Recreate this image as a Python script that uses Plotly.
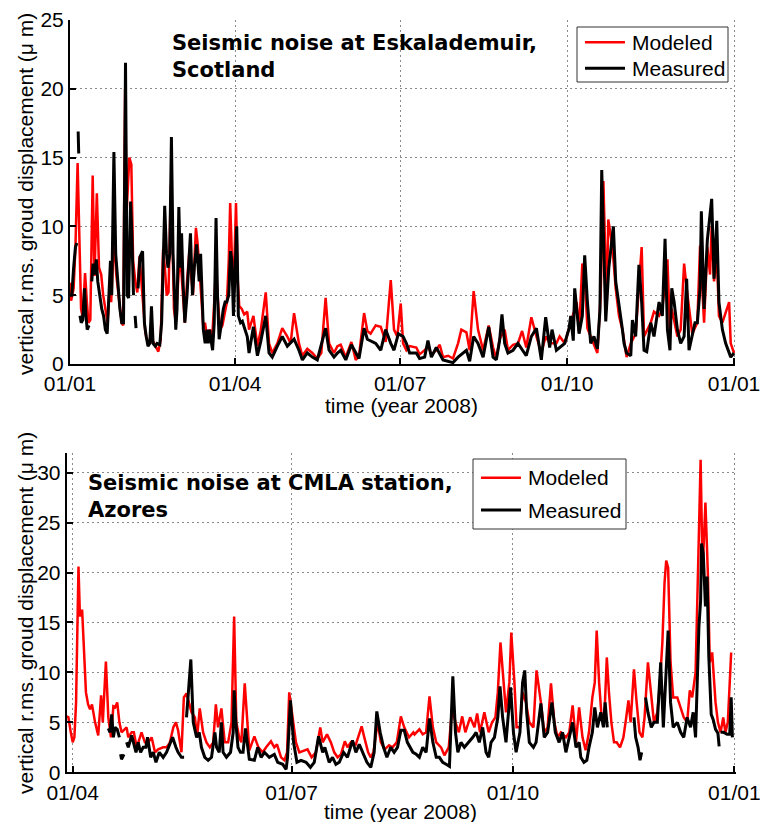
import pandas as pd
import plotly.graph_objects as go

BASE = pd.Timestamp("2008-01-01")

# ---------------- Eskalademuir (day of year 2008, displacement in micrometres) ----------------
esk_mod_day = [
    0, 0.6, 2, 3, 4.2, 5.2, 6.1, 7.0, 8.3, 9.3, 10.2, 11.2, 12.5, 13.5, 14.8, 16.0, 17.2, 18.3, 19.5, 20.7,
    21.8, 22.7, 23.7, 24.4, 25.5, 27.0, 28.5, 29.3, 30.4, 31.2, 32.7, 33.8, 34.8, 36.0, 37.1, 38.3, 39.3, 40.2,
    41.5, 43.0, 44.5, 46.0, 47.5, 48.7, 50.0, 51.3, 52.3, 53.3, 54.3, 55.6, 56.5, 57.3, 58.3, 59.3, 60.5, 61.5,
    62.5, 63.3, 64.5, 65.7, 66.7, 67.8, 69.4, 70.3, 71.3, 72.3, 73.5, 74.4, 75.5, 77.1, 78.2, 79.3, 80.5, 81.6,
    82.7, 84.0, 85.5, 86.5, 87.5, 88.3, 89.2, 90.1, 91.5, 92.5, 93.3, 94.7, 96.0, 97.7, 98.7, 101.1, 103.3,
    105.1, 107.9, 109.7, 111.5, 114.3, 117.0, 119.8, 121.6, 123.5, 126.2, 128.1, 130.8, 133.6, 136.3, 138.5,
    140.9, 142.8, 145.5, 147.4, 149.2, 152.0, 155.1, 157.5, 159.3, 162.1, 163.9, 165.7, 168.5, 171.3, 174.0,
    176.8, 178.6, 180.4, 182.3, 183.6, 185.4, 187.2, 190.9, 192.7, 195.5, 197.3, 199.2, 201.9, 203.8, 205.6,
    208.4, 211.1, 213.9, 215.7, 218.5, 220.3, 222.5, 224.9, 227.7, 230.8, 233.2, 235.0, 236.8, 239.6, 241.4,
    244.2, 246.9, 249.2, 251.5, 254.3, 257.1, 259.8, 262.2, 264.4, 268.1, 269.9, 272.7, 276.0, 279.3, 280.6,
    282.4, 283.7, 285.2, 287.0, 290.7, 292.5, 294.0, 295.8, 296.7, 299.0, 300.8, 302.6, 304.5, 306.8, 309.1,
    311.8, 313.6, 315.1, 316.4, 320.1, 321.9, 324.7, 326.5, 328.0, 329.3, 330.7, 331.7, 334.8, 336.6, 338.5,
    339.9, 343.0, 345.8, 347.3, 349.5, 351.3, 352.8, 353.7, 355.0, 356.5, 357.7, 359.6, 363.3, 364.2, 366.0,
]
esk_mod_val = [
    5.9, 4.6, 5.5, 8.5, 14.6, 9.0, 4.0, 3.4, 6.6, 4.5, 3.0, 3.2, 13.7, 6.4, 12.4, 7.0, 6.5, 5.0, 4.0, 3.0,
    5.5, 4.5, 7.5, 9.0, 6.5, 4.5, 3.0, 2.8, 20.0, 11.0, 15.0, 14.5, 7.5, 6.0, 5.2, 7.8, 6.0, 4.2,
    2.3, 1.5, 1.6, 1.6, 1.2, 0.9, 1.8, 8.3, 7.0, 5.0, 5.2, 13.0, 9.0, 4.0, 3.0, 5.5, 8.0, 6.5,
    4.5, 3.0, 6.0, 8.0, 6.5, 5.0, 9.9, 8.8, 7.0, 5.0, 2.6, 3.0, 2.0, 2.5, 1.6, 4.0, 7.0, 4.5,
    2.5, 2.8, 4.0, 4.5, 7.5, 11.7, 8.0, 5.0, 11.7, 6.0, 4.2, 4.0, 3.6, 3.8, 2.5, 3.5, 1.3,
    2.4, 5.2, 1.5, 0.8, 1.5, 2.6, 2.0, 1.5, 3.7, 1.5, 0.6, 1.1, 0.8, 0.4, 0.8,
    4.8, 1.5, 0.8, 1.3, 1.4, 0.5, 1.6, 0.3, 0.6, 3.7, 2.4, 2.2, 2.8, 2.7, 1.6,
    6.1, 2.5, 2.0, 4.4, 1.5, 1.0, 1.3, 1.2, 0.7, 1.0, 1.3, 0.7, 1.0, 1.4, 0.5,
    0.6, 0.4, 1.5, 2.5, 2.3, 1.0, 5.3, 2.5, 1.0, 2.8, 1.2, 0.4, 1.8, 2.5, 1.0,
    1.4, 1.5, 2.4, 1.2, 3.4, 2.0, 0.8, 2.0, 1.5, 1.5, 2.0, 1.5, 3.0, 4.5, 2.3,
    7.3, 6.5, 2.6, 2.0, 0.8, 5.0, 13.3, 4.0, 10.5, 8.5, 5.5, 3.5, 2.5, 0.5, 1.5,
    2.2, 5.5, 8.5, 2.0, 3.0, 3.8, 3.5, 4.0, 6.0, 7.6, 2.5, 4.0, 2.0, 2.5, 7.3,
    5.5, 2.2, 3.0, 8.6, 3.0, 8.5, 6.5, 10.0, 6.0, 8.0, 3.5, 3.0, 4.5, 1.5, 0.8,
]

esk_meas_day = [
    0, 1.0, 2.0, 3.0, 3.8, 4.2, 4.5, 4.8, 5.1, 5.5, 6.2, 7.0, 8.0, 8.8, 9.5, 10.5, 11.2, 12.0, 12.7, 13.5,
    14.5, 15.3, 16.2, 17.5, 18.5, 19.5, 20.5, 21.5, 22.3, 23.0, 24.2, 25.2, 26.4, 27.5, 28.5, 29.5, 30.6, 31.5,
    32.3, 33.4, 34.1, 35.0, 35.4, 35.9, 36.4, 36.8, 37.5, 38.6, 40.0, 41.0, 42.0, 43.0, 44.0, 44.9, 45.8, 47.0,
    48.0, 49.5, 50.5, 51.3, 52.2, 53.2, 54.0, 55.0, 55.9, 56.8, 57.5, 58.3, 59.0, 60.0, 60.8, 61.5, 62.3, 63.3,
    64.5, 65.7, 66.4, 67.5, 68.5, 69.8, 70.5, 71.2, 72.0, 72.8, 73.5, 74.5, 75.5, 76.2, 77.0, 78.0, 78.6, 79.5,
    80.5, 81.3, 82.2, 83.5, 84.5, 85.5, 86.4, 87.5, 88.5, 89.2, 90.1, 91.9, 92.8, 94.0, 95.0, 97.7, 98.7, 101.1,
    103.3, 105.1, 107.9, 109.7, 111.5, 114.3, 117.0, 119.8, 123.5, 126.2, 128.1, 130.8, 133.6, 136.3, 140.9,
    142.8, 145.5, 147.4, 149.2, 152.0, 155.1, 159.3, 162.1, 163.9, 168.5, 171.3, 174.0, 176.8, 178.6, 181.0,
    183.6, 185.4, 187.2, 190.9, 192.7, 195.5, 197.3, 199.2, 201.9, 205.6, 208.4, 211.1, 213.9, 218.5, 220.3,
    222.5, 224.9, 227.7, 230.8, 233.2, 235.0, 236.8, 238.1, 239.6, 241.4, 244.2, 246.9, 251.5, 254.3, 257.1,
    259.8, 262.2, 264.4, 265.7, 268.1, 272.7, 275.1, 276.0, 277.4, 278.2, 280.6, 282.4, 283.7, 285.2, 287.0,
    288.8, 290.7, 292.1, 293.1, 295.3, 297.0, 299.5, 300.8, 302.6, 304.5, 305.4, 306.8, 309.1, 310.0, 311.8,
    313.6, 315.1, 316.4, 317.9, 320.1, 321.9, 324.7, 326.5, 328.0, 329.3, 330.7, 331.7, 333.0, 334.8, 336.6,
    338.5, 339.9, 341.2, 343.0, 344.5, 345.8, 347.3, 348.0, 349.5, 351.3, 353.7, 355.0, 356.5, 357.7, 359.6,
    361.4, 364.2, 366.0,
]
esk_meas_val = [
    5.0, 5.0, 7.0, 8.5, 8.8, None, 16.9, 15.3, None, 3.5, 3.0, 3.2, 5.5, 3.5, 2.5, 2.8, None, 6.0, 7.3, 6.5,
    7.6, 6.0, 5.0, 4.0, 3.5, 2.5, 2.2, 6.0, 7.5, 5.0, 15.4, 8.0, 5.5, 4.0, 3.0, 3.0, 21.9, 5.0,
    4.8, 11.8, 9.4, 5.0, None, 3.5, 2.6, None, 5.5, 7.8, 8.2, 3.0, 2.0, 1.3, 1.5, 4.2, 1.5, 1.3,
    1.5, 1.4, 3.0, 8.0, 11.5, 8.0, 7.0, 8.0, 16.5, 8.0, 4.5, 2.5, 4.0, 11.4, 7.0, 9.5, 6.0, 3.0,
    5.0, 8.5, 9.5, 5.0, 7.0, 8.7, 7.0, 6.0, 8.0, 5.0, 2.5, 1.5, 2.5, 1.5, 2.5, 1.5, 1.0, 3.0,
    10.6, 5.0, 1.8, 3.0, 4.0, 4.5, 4.5, 5.0, 8.2, 7.5, 3.5, 10.0, 3.5, 3.0, 3.1, 2.0, 0.8, 2.7,
    0.6, 1.6, 3.5, 0.8, 0.5, 1.3, 2.0, 1.3, 1.8, 1.0, 0.3, 0.8, 0.5, 0.3, 2.6,
    1.0, 0.5, 0.8, 1.0, 0.3, 1.4, 0.4, 2.6, 1.8, 1.5, 1.0, 2.5, 1.5, 1.0, 2.2,
    2.0, 1.5, 0.8, 0.8, 0.4, 0.5, 1.7, 0.5, 1.2, 0.3, 0.2, 0.1, 0.5, 1.0, 0.2,
    2.0, 1.5, 0.5, 2.7, 0.5, 0.3, 1.7, 3.6, 1.5, 0.8, 1.0, 1.5, 0.6, 2.0, 2.6,
    0.3, 3.4, 1.2, 2.5, 1.0, 1.5, 2.6, 3.5, 1.7, 5.5, 2.2, 3.5, 7.9, 4.5, 1.5,
    2.0, 1.1, 3.9, 14.1, 3.1, 7.0, 10.0, 6.0, 4.4, 2.5, 1.5, 0.8, 0.6, 3.2, 2.0,
    7.2, 4.5, 1.0, 0.9, 3.0, 2.0, 4.5, 3.5, 9.1, 2.5, 1.0, 5.5, 4.5, 2.5, 1.5,
    2.0, 6.2, 1.0, 2.0, 3.0, 3.0, 5.5, 11.1, 4.0, 9.0, 12.0, 6.2, 10.4, 4.5, 2.5,
    1.5, 0.5, 0.8,
]

# ---------------- CMLA, Azores ----------------
cmla_mod_day = [
    88.5, 89.2, 90.2, 91.0, 91.7, 92.4, 93.4, 94.0, 94.9, 95.7, 96.5, 97.4, 98.2, 99.0, 100.3, 101.6, 102.8,
    103.5, 104.8, 105.8, 106.9, 107.9, 108.6, 109.5, 110.4, 111.3, 113.4, 114.1, 115.5, 116.4, 117.6, 119.6,
    121.0, 122.4, 123.8, 125.2, 126.5, 128.6, 130.0, 131.4, 132.8, 133.9, 134.8, 136.2, 137.2, 138.3, 139.4,
    140.4, 141.8, 142.7, 143.8, 145.2, 146.6, 148.0, 149.4, 150.5, 151.4, 152.8, 154.2, 155.6, 157.0, 158.1,
    159.0, 160.2, 161.1, 162.5, 164.4, 166.5, 168.2, 170.0, 171.4, 173.4, 174.8, 175.9, 177.6, 179.0, 180.1,
    181.0, 182.4, 183.8, 185.2, 187.3, 188.6, 190.3, 192.1, 193.9, 194.9, 196.7, 198.3, 199.7, 201.1, 202.5,
    204.1, 205.2, 206.6, 208.7, 211.1, 212.2, 213.8, 214.9, 216.0, 217.7, 219.1, 220.7, 222.5, 223.9, 225.7,
    227.4, 228.8, 230.8, 232.6, 233.1, 235.1, 236.5, 237.9, 239.3, 240.7, 242.1, 244.1, 245.5, 247.3, 248.7,
    250.1, 251.5, 252.9, 254.2, 256.2, 258.0, 259.1, 260.3, 262.1, 263.9, 265.3, 266.7, 267.7, 268.8, 269.7,
    271.1, 272.5, 273.3, 274.6, 275.5, 276.9, 278.0, 279.4, 280.8, 282.5, 283.8, 285.6, 287.0, 288.4, 289.8,
    291.2, 292.5, 293.9, 296.0, 297.4, 298.8, 300.2, 301.5, 302.9, 304.2, 305.6, 307.0, 308.0, 308.8, 309.8,
    310.7, 311.9, 313.0, 313.9, 314.9, 316.0, 317.1, 318.5, 319.9, 320.8, 322.0, 322.9, 324.3, 325.4, 326.6,
    327.8, 328.7, 330.1, 331.2, 332.6, 334.0, 335.1, 336.1, 337.0, 337.7, 338.5, 339.5, 340.6, 342.3, 343.7,
    345.0, 346.4, 347.5, 348.5, 349.9, 350.9, 352.0, 352.8, 354.0, 355.0, 355.8, 356.8, 358.2, 359.2, 360.3,
    361.4, 362.3, 363.3, 364.7,
]
cmla_mod_val = [
    5.6, 5.5, 4.0, 3.0, 3.5, 7.0, 20.6, 15.6, 16.3, 12.0, 8.0, 6.8, 6.3, 6.8, 5.0, 3.7, 7.7,
    5.0, 11.1, 5.5, 3.5, 6.6, 6.5, 7.0, 5.0, 4.0, 4.5, 3.5, 4.0, 4.0, 2.5, 4.0,
    3.0, 3.0, 3.5, 2.0, 2.3, 2.5, 2.5, 3.0, 4.5, 5.0, 4.2, 2.0, 7.5, 7.9, 7.0,
    6.0, 5.5, 3.5, 6.4, 4.0, 3.0, 2.5, 3.0, 6.8, 4.5, 6.4, 3.0, 3.0, 5.0, 15.6,
    5.0, 3.5, 3.0, 8.9, 2.2, 3.6, 2.5, 2.0, 2.5, 3.1, 2.5, 2.8, 1.5, 1.2, 2.0,
    8.0, 5.5, 3.0, 2.0, 2.2, 2.3, 1.5, 2.0, 4.5, 3.0, 3.8, 3.0, 2.0, 1.5, 1.8,
    3.1, 2.5, 3.0, 2.8, 4.6, 3.5, 2.0, 1.5, 2.0, 5.0, 3.0, 2.3, 2.7, 2.5, 3.0,
    5.6, 4.5, 3.5, 4.0, 3.8, 4.3, 3.8, 4.0, 7.6, 4.5, 3.0, 2.5, 1.7, 2.5, 6.4,
    5.0, 4.0, 5.6, 4.0, 5.5, 4.5, 5.9, 4.0, 6.0, 4.0, 5.0, 5.5, 8.0, 13.0, 10.0,
    6.0, 9.0, 14.0, 9.0, 4.5, 4.5, 8.0, 7.0, 5.0, 4.5, 10.2, 7.0, 4.0, 4.5, 8.9,
    5.0, 3.5, 4.0, 3.5, 4.0, 6.7, 3.0, 6.5, 3.5, 2.2, 4.0, 7.5, 9.0, 14.2, 9.0,
    6.0, 5.0, 11.5, 8.0, 5.0, 3.0, 3.0, 2.5, 3.5, 5.0, 7.2, 5.0, 10.3, 7.0, 4.0,
    3.5, 5.5, 11.0, 8.5, 5.0, 6.0, 9.0, 13.0, 19.0, 21.2, 20.5, 11.0, 7.5, 7.5, 6.5,
    5.5, 5.0, 8.2, 7.5, 10.0, 20.0, 31.3, 20.0, 27.0, 20.0, 11.0, 12.0, 7.0, 5.0, 4.0,
    5.5, 4.0, 5.0, 12.0,
]

cmla_meas_day = [
    105.8, 106.5, 107.2, 107.9, 108.6, 109.5, 110.4, 110.6, 110.9, 111.3, 112.3, 112.8, 113.4, 114.1, 115.5,
    116.2, 117.3, 118.2, 119.2, 120.3, 121.4, 122.1, 123.4, 124.5, 125.6, 127.0, 128.6, 130.0, 131.4, 132.5,
    133.9, 134.8, 136.2, 137.3, 137.8, 138.3, 140.1, 141.1, 142.5, 143.6, 144.5, 145.9, 147.3, 148.7, 150.1,
    150.8, 151.9, 152.8, 153.5, 154.9, 156.6, 157.7, 158.1, 158.8, 159.7, 160.7, 161.8, 162.8, 164.4, 166.5,
    167.9, 169.3, 170.7, 172.7, 174.8, 176.2, 178.3, 179.7, 180.3, 181.5, 182.8, 184.2, 185.9, 188.0, 189.8,
    191.4, 193.2, 194.9, 195.8, 197.6, 199.0, 200.4, 201.8, 203.6, 205.2, 207.3, 208.7, 210.1, 211.5, 213.3,
    214.9, 216.3, 217.4, 218.8, 220.2, 221.6, 223.2, 224.6, 226.0, 227.4, 228.8, 230.1, 232.4, 233.8, 235.1,
    236.5, 237.9, 239.3, 240.7, 242.1, 243.4, 244.8, 246.2, 247.6, 249.0, 250.1, 251.1, 252.4, 253.8, 255.6,
    257.3, 258.7, 260.0, 261.4, 262.8, 263.9, 264.9, 266.3, 267.7, 268.6, 269.7, 271.1, 272.5, 273.0, 274.2,
    275.3, 276.9, 278.0, 278.9, 279.7, 280.8, 282.5, 283.6, 285.6, 287.0, 288.4, 290.2, 291.6, 293.2, 294.6,
    296.0, 297.4, 298.8, 300.2, 301.5, 302.2, 303.5, 304.7, 305.6, 307.0, 308.0, 309.1, 310.5, 311.6, 312.3,
    313.2, 318.0, 324.3, 325.0, 326.0, 326.8, 327.5, 328.3, 329.1, 330.1, 331.5, 332.6, 334.0, 335.4, 336.5,
    338.5, 339.5, 340.6, 342.3, 343.7, 345.0, 346.4, 347.8, 348.9, 349.9, 350.9, 351.3, 352.0, 352.4, 353.1,
    354.0, 354.7, 355.4, 356.4, 357.2, 358.2, 359.2, 359.7, 360.0, 360.3, 361.6, 363.0, 364.1, 364.7, 365.2,
]
cmla_meas_val = [
    4.4, 4.0, 5.8, 3.5, 4.5, 4.3, 3.5, None, 1.8, 1.3, 1.8, None, 3.0, 2.5, 3.7,
    3.0, 2.0, 3.0, 2.0, 2.5, 2.5, 3.5, 1.5, 2.0, 1.0, 2.0, 1.5, 2.0, 2.8, 3.5,
    2.5, 2.0, 1.5, 1.5, None, 5.5, 11.3, 5.0, 3.5, 4.0, 2.5, 1.5, 1.2, 1.5, 4.0,
    2.5, 2.0, 5.0, 2.0, 1.5, 2.0, 4.0, 8.2, 5.0, 2.5, 2.0, 2.0, 4.4, 1.3, 1.2,
    2.5, 1.5, 2.0, 1.5, 1.8, 1.0, 0.8, 0.3, 1.5, 7.2, 3.0, 1.0, 1.2, 1.0, 0.5,
    1.0, 3.6, 2.0, 2.5, 1.0, 1.5, 0.8, 1.0, 2.0, 1.5, 3.2, 2.0, 2.8, 2.0, 1.0,
    0.5, 2.0, 6.1, 4.0, 2.5, 1.5, 2.5, 2.0, 2.5, 4.2, 4.2, 3.0, 2.0, 1.8, 1.5,
    2.5, 2.0, 5.4, 3.0, 1.5, 1.5, 1.0, 0.8, 0.6, 9.6, 4.0, 2.0, 3.0, 2.5, 3.0,
    3.5, 4.0, 3.0, 4.5, 2.0, 1.5, 3.0, 3.5, 5.5, 8.6, 5.5, 3.0, 7.0, 8.5, 4.0,
    2.0, 4.0, 9.0, 10.2, 6.0, 3.0, 2.5, 3.0, 6.9, 3.5, 4.0, 7.0, 4.0, 3.0, 4.0,
    2.0, 3.5, 5.0, 2.5, 3.0, 1.5, 1.0, 1.2, 2.5, 4.0, 6.5, 4.5, 6.0, 4.5, 7.0,
    4.5, None, 5.5, 3.5, 2.5, 1.2, 2.0, None, 7.5, 6.0, 4.5, 5.0, 5.0, 11.0, 4.5,
    14.2, 7.0, 4.5, 5.0, 4.0, 3.5, 5.5, 4.5, 6.0, 3.5, 12.0, 14.6, 17.2, 22.9, 21.9,
    16.6, 19.6, 11.6, 5.8, 5.3, 4.3, 3.9, 2.6, None, 4.0, 4.0, 3.8, 3.8, 7.5, 3.5,
]

assert len(esk_mod_day) == len(esk_mod_val)
assert len(esk_meas_day) == len(esk_meas_val)
assert len(cmla_mod_day) == len(cmla_mod_val)
assert len(cmla_meas_day) == len(cmla_meas_val)

top_tick_days = [0, 91, 182, 274, 366]
top_tick_text = ["01/01", "01/04", "01/07", "01/10", "01/01"]
bot_tick_days = [91, 182, 274, 366]
bot_tick_text = ["01/04", "01/07", "01/10", "01/01"]
series_names = ["Modeled", "Measured"]


def to_dates(days):
    return [BASE + pd.Timedelta(days=float(d)) for d in days]


W, H = 760, 822
RED = "#ff0000"
BLACK = "#000000"
TICK_FONT = dict(family="Liberation Sans, Arial, sans-serif", size=21, color="black")
TITLE_FONT = dict(family="DejaVu Sans, sans-serif", size=21, color="black")
# the date range runs a little past 01/01/2009 so that its tick and grid line are kept
END_PAD = 0.6
X_END = BASE + pd.Timedelta(days=366 + END_PAD)

fig = go.Figure()

fig.add_trace(go.Scatter(x=to_dates(esk_mod_day), y=esk_mod_val, mode="lines", name=series_names[0],
                         line=dict(color=RED, width=2.5), xaxis="x", yaxis="y", showlegend=False))
fig.add_trace(go.Scatter(x=to_dates(esk_meas_day), y=esk_meas_val, mode="lines", name=series_names[1],
                         line=dict(color=BLACK, width=3), xaxis="x", yaxis="y", showlegend=False))
fig.add_trace(go.Scatter(x=to_dates(cmla_mod_day), y=cmla_mod_val, mode="lines", name=series_names[0],
                         line=dict(color=RED, width=2.5), xaxis="x2", yaxis="y2", showlegend=False))
fig.add_trace(go.Scatter(x=to_dates(cmla_meas_day), y=cmla_meas_val, mode="lines", name=series_names[1],
                         line=dict(color=BLACK, width=3), xaxis="x2", yaxis="y2", showlegend=False))

axis_common = dict(
    showline=True, linecolor="black", linewidth=2, mirror=False,
    ticks="inside", ticklen=6, tickwidth=2, tickcolor="black",
    showgrid=True, gridcolor="#8a8a8a", gridwidth=1, griddash="2px,3px",
    zeroline=False, tickfont=TICK_FONT, fixedrange=True, automargin=False,
    ticklabeloverflow="allow",
)

fig.update_layout(
    width=W, height=H,
    margin=dict(l=0, r=0, t=0, b=0),
    paper_bgcolor="white", plot_bgcolor="white",
    showlegend=False,
    xaxis=dict(axis_common, type="date", anchor="y",
               domain=[70 / W, (734 + END_PAD * 1.814) / W],
               range=[BASE, X_END],
               tickvals=to_dates(top_tick_days), ticktext=top_tick_text),
    yaxis=dict(axis_common, anchor="x",
               domain=[1 - 364 / H, 1 - 20 / H],
               range=[0, 25], tickvals=[0, 5, 10, 15, 20, 25]),
    xaxis2=dict(axis_common, type="date", anchor="y2",
                domain=[66.7 / W, (734.3 + END_PAD * 2.41) / W],
                range=[BASE + pd.Timedelta(days=88.5), X_END],
                tickvals=to_dates(bot_tick_days), ticktext=bot_tick_text),
    yaxis2=dict(axis_common, anchor="x2",
                domain=[1 - 772.3 / H, 1 - 452.7 / H],
                range=[0, 32], tickvals=[0, 5, 10, 15, 20, 25, 30]),
)


def py(px):
    return 1 - px / H


shapes = []
annotations = []

# legend boxes: (left, top, right, bottom, first row y, second row y)
legend_boxes = [
    (577, 27, 728, 82, 42.3, 68.3),
    (473, 459, 626, 529, 477.7, 510),
]
for (x0, y0, x1, y1, r1, r2) in legend_boxes:
    shapes.append(dict(type="rect", xref="paper", yref="paper",
                       x0=x0 / W, x1=x1 / W, y0=py(y1), y1=py(y0),
                       line=dict(color="#333333", width=1), fillcolor="white", layer="above"))
    for ry, col, lw, name in [(r1, RED, 2.5, series_names[0]), (r2, BLACK, 3, series_names[1])]:
        shapes.append(dict(type="line", xref="paper", yref="paper",
                           x0=(x0 + 8) / W, x1=(x0 + 48) / W, y0=py(ry), y1=py(ry),
                           line=dict(color=col, width=lw), layer="above"))
        annotations.append(dict(text=name, x=(x0 + 53) / W, y=py(ry), xref="paper", yref="paper",
                                xanchor="left", yanchor="middle", showarrow=False, font=TICK_FONT))

# panel titles
for txt, x, y in [
    ("<b>Seismic noise at Eskalademuir,</b>", 170, 43),
    ("<b>Scotland</b>", 170, 70),
    ("<b>Seismic noise at CMLA station,</b>", 86, 483),
    ("<b>Azores</b>", 86, 510),
]:
    annotations.append(dict(text=txt, x=x / W, y=py(y), xref="paper", yref="paper",
                            xanchor="left", yanchor="middle", showarrow=False, font=TITLE_FONT))

# axis titles
ylabel = "vertical r.ms. groud displacement (\u03bc m)"
for (x, y, txt, ang) in [
    (401, 406, "time (year 2008)", 0),
    (400, 811, "time (year 2008)", 0),
    (25, 194, ylabel, -90),
    (25, 613, ylabel, -90),
]:
    annotations.append(dict(text=txt, x=x / W, y=py(y), xref="paper", yref="paper",
                            xanchor="center", yanchor="middle", textangle=ang,
                            showarrow=False, font=TICK_FONT))

fig.update_layout(shapes=shapes, annotations=annotations)

fig.write_html("out.html")
